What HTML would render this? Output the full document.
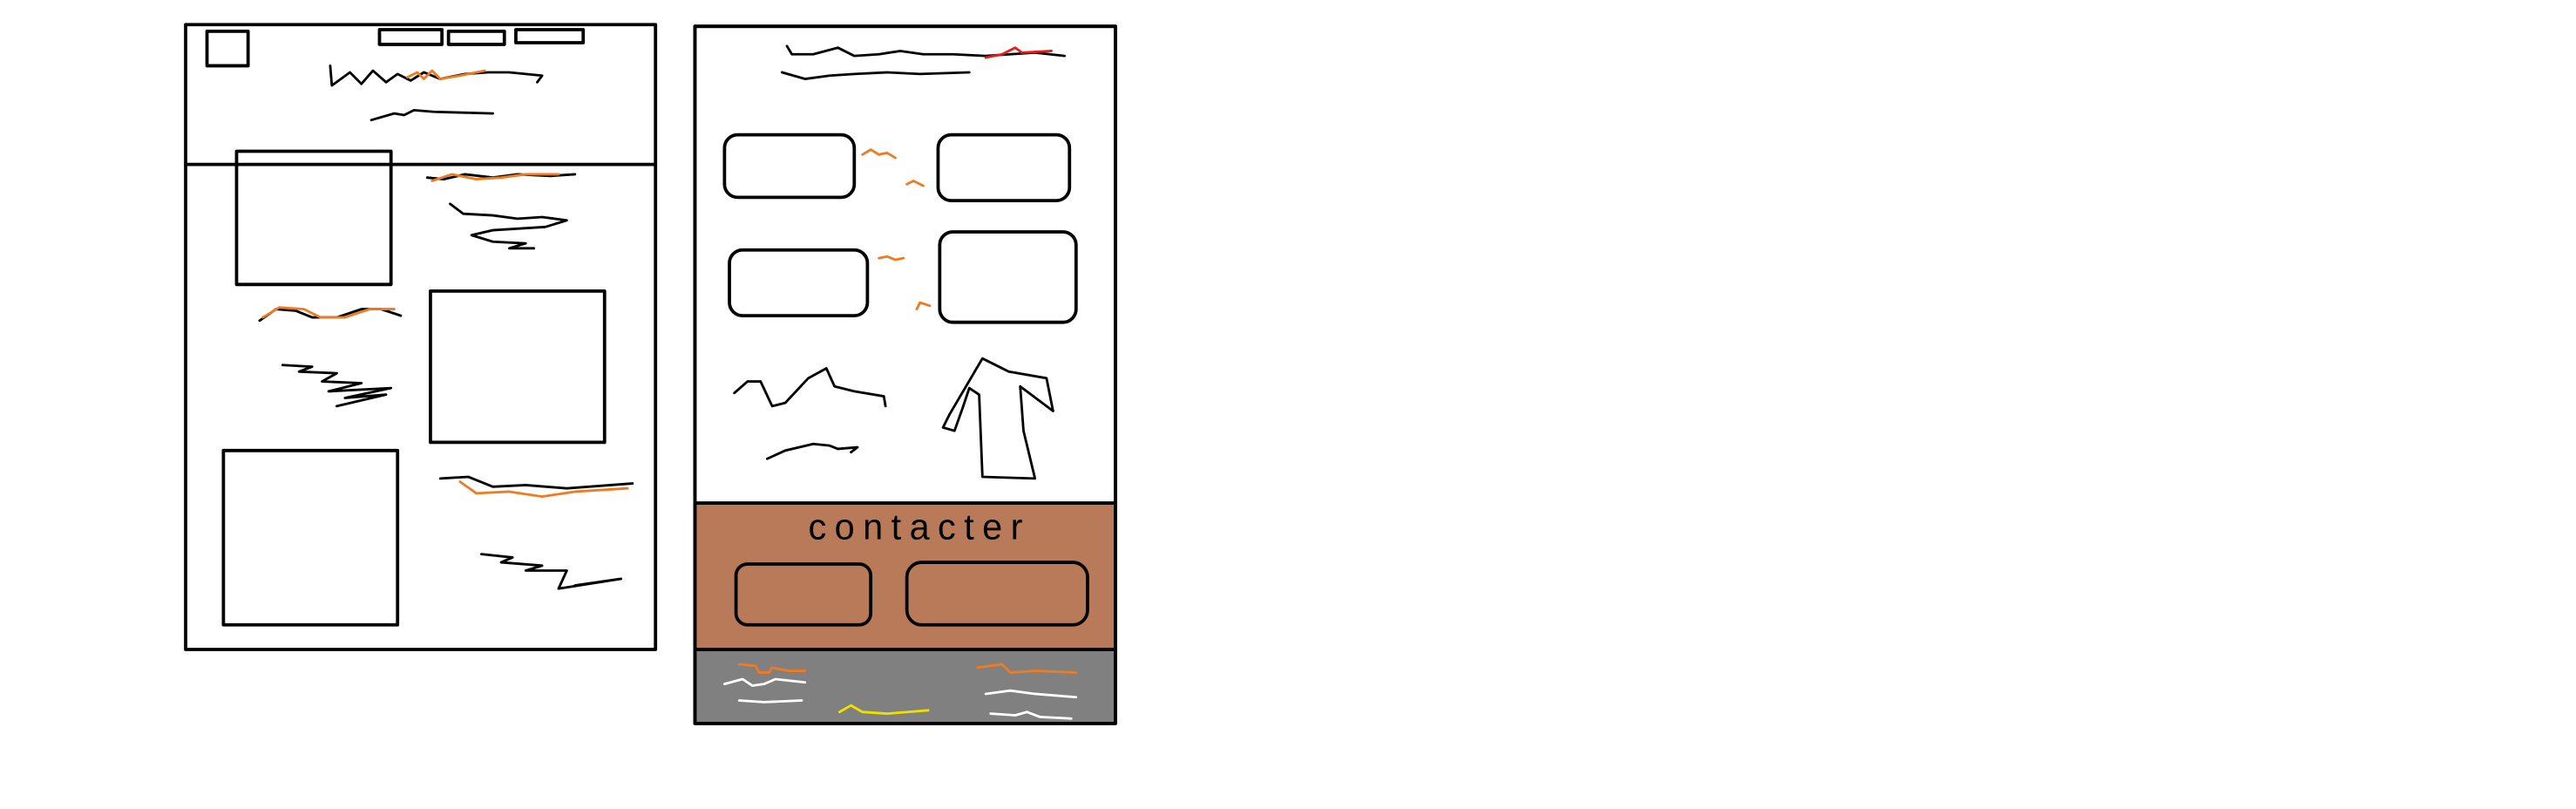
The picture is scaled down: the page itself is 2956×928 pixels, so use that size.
<!DOCTYPE html>
<html><head><meta charset="utf-8"><style>
html,body{margin:0;padding:0;background:#fff;width:2956px;height:928px;overflow:hidden}
svg{display:block}
</style></head><body>
<svg width="2956" height="928" viewBox="0 0 1568 492" preserveAspectRatio="none" fill="none" stroke="#000" stroke-width="2" stroke-linecap="round" stroke-linejoin="round">
<g>
<rect x="113" y="15" width="286" height="380" fill="#fff"/>
<line x1="113" y1="100" x2="399" y2="100"/>
<rect x="126" y="19" width="25" height="21"/>
<rect x="231" y="18" width="38" height="9"/>
<rect x="273" y="19" width="34" height="8"/>
<rect x="314" y="18" width="41" height="8"/>
<polyline stroke-width="1.5" points="201,40 202,52 213,44 220,51 227,43 235,50 242,45 250,49 258,44 268,48 283,45 297,44 310,44 330,46 327,50"/>
<polyline stroke="#f07a20" stroke-width="1.5" points="248,47 254,44 258,48 263,43 268,48 280,46 295,43"/>
<polyline stroke-width="1.5" points="226,73 240,69 246,70 252,67 264,68 300,69"/>
<rect x="144" y="92" width="94" height="81"/>
<rect x="262" y="177" width="106" height="92"/>
<rect x="136" y="274" width="106" height="106"/>
<polyline stroke-width="1.5" points="260,108 270,109 283,106 300,108 315,106 335,107 350,106"/>
<polyline stroke="#f07a20" stroke-width="1.5" points="263,110 275,106 290,109 305,108 320,106 340,106"/>
<polyline stroke-width="1.5" points="274,124 282,130 300,131 315,133 330,132 345,134 332,138 300,140 287,143 300,147 320,148 310,151 325,151"/>
<polyline stroke-width="1.5" points="158,195 168,188 180,189 190,193 205,193 220,188 232,188 244,192"/>
<polyline stroke="#f07a20" stroke-width="1.5" points="160,193 170,187 185,188 195,193 210,193 225,188 240,188"/>
<polyline stroke-width="1.5" points="172,222 190,223 182,226 205,227 196,232 220,233 200,238 238,236 210,242 235,240 205,247"/>
<polyline stroke-width="1.5" points="268,291 285,290 300,296 320,295 345,297 385,294"/>
<polyline stroke="#f07a20" stroke-width="1.5" points="280,293 290,300 310,299 330,302 350,299 382,297"/>
<polyline stroke-width="1.5" points="293,337 312,339 305,342 330,344 320,347 345,347 340,358 378,352 350,356"/>
</g>
<g>
<rect x="423" y="16" width="256" height="290" fill="#fff"/>
<polyline stroke-width="1.5" points="479,28 482,33 495,33 510,29 520,34 535,33 548,31 562,33 580,33 600,34 615,33 630,32 648,34"/>
<polyline stroke="#e02020" stroke-width="1.5" points="600,35 610,33 618,29 622,32 640,31"/>
<polyline stroke-width="1.5" points="476,44 490,48 505,46 520,45 540,44 560,45 590,44"/>
<rect x="441" y="82" width="79" height="38" rx="8" fill="#fff"/>
<rect x="571" y="82" width="80" height="40" rx="8" fill="#fff"/>
<rect x="444" y="152" width="84" height="40" rx="8" fill="#fff"/>
<rect x="572" y="141" width="83" height="55" rx="8" fill="#fff"/>
<polyline stroke="#f07a20" stroke-width="1.5" points="525,94 530,91 535,94 540,93 545,96"/>
<polyline stroke="#f07a20" stroke-width="1.5" points="552,112 556,110 562,113"/>
<polyline stroke="#f07a20" stroke-width="1.5" points="535,157 540,156 545,158 550,157"/>
<polyline stroke="#f07a20" stroke-width="1.5" points="558,188 560,184 566,186"/>
<polyline stroke-width="1.5" points="447,239 455,232 463,232 470,247 478,245 492,230 503,224 508,235 520,238 538,241 539,247"/>
<polyline stroke-width="1.5" points="467,279 478,274 495,270 505,271 510,273 522,272 518,275"/>
<polyline stroke-width="1.5" points="598,218 578,252 574,260 581,262 586,248 590,236 596,240 598,290 630,291 623,262 621,235 641,250 637,230 614,226 598,218"/>
<rect x="423" y="306" width="256" height="89" fill="#b87a58"/>
<text x="492" y="328" font-family="Liberation Sans, sans-serif" font-size="22" fill="#000" stroke="none" letter-spacing="5">contacter</text>
<rect x="448" y="343" width="82" height="37" rx="7"/>
<rect x="552" y="342" width="110" height="38" rx="9"/>
<rect x="423" y="395" width="256" height="45" fill="#808080"/>
<polyline stroke="#f07a20" stroke-width="1.5" points="450,404 460,405 462,409 468,409 470,406 480,408 490,408"/>
<polyline stroke="#fff" stroke-width="1.5" points="441,416 452,413 458,417 465,416 472,413 490,415"/>
<polyline stroke="#fff" stroke-width="1.5" points="450,426 465,427 488,426"/>
<polyline stroke="#f0e000" stroke-width="1.5" points="511,433 518,429 525,433 540,434 565,432"/>
<polyline stroke="#f07a20" stroke-width="1.5" points="595,406 610,404 615,409 630,408 655,409"/>
<polyline stroke="#fff" stroke-width="1.5" points="600,422 615,420 630,422 655,424"/>
<polyline stroke="#fff" stroke-width="1.5" points="603,434 618,435 625,433 633,436 652,437"/>
<rect x="423" y="16" width="256" height="424"/>
<line x1="423" y1="395" x2="679" y2="395"/>
</g>
</svg>
</body></html>
